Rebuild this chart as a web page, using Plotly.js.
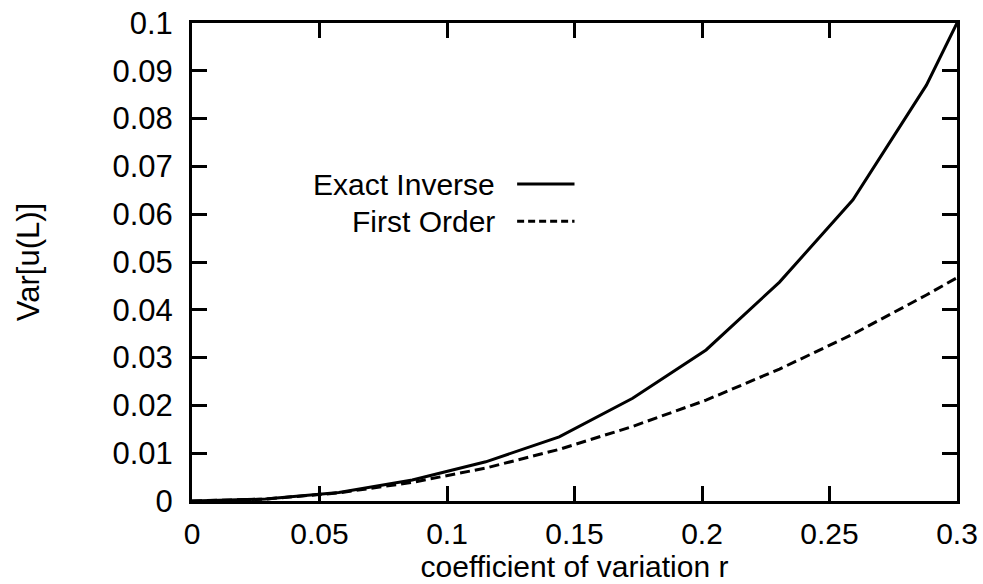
<!DOCTYPE html>
<html>
<head>
<meta charset="utf-8">
<script src="https://cdn.plot.ly/plotly-3.0.1.min.js"></script>
<style>html,body{margin:0;padding:0;background:#fff;}#chart{width:983px;height:584px;}</style>
</head>
<body>
<div id="chart"></div>
<script>
// coefficient of variation r
const r = [0, 0.0288, 0.0576, 0.0864, 0.1152, 0.144, 0.1728, 0.2016, 0.2304, 0.2592, 0.288, 0.3];
// Var[u(L)] - exact inverse
const exactInverse = [0, 0.0004, 0.0018, 0.0044, 0.0082, 0.0134, 0.0215, 0.0316, 0.0458, 0.063, 0.087, 0.1];
// Var[u(L)] - first order approximation
const firstOrder = [0, 0.0004, 0.0017, 0.0039, 0.0069, 0.0108, 0.0156, 0.0211, 0.0276, 0.0349, 0.0431, 0.0467];
const seriesNames = ["Exact Inverse", "First Order"];
const xTicks = [0, 0.05, 0.1, 0.15, 0.2, 0.25, 0.3];
const xTickText = ["0", "0.05", "0.1", "0.15", "0.2", "0.25", "0.3"];
const yTicks = [0, 0.01, 0.02, 0.03, 0.04, 0.05, 0.06, 0.07, 0.08, 0.09, 0.1];
const yTickText = ["0", "0.01", "0.02", "0.03", "0.04", "0.05", "0.06", "0.07", "0.08", "0.09", "0.1"];

const FONT = "Liberation Sans, Arial, Helvetica, sans-serif";
const FS = 31;
const FX = 30;
const FL = 30;

const traces = [
  {x: r, y: exactInverse, name: seriesNames[0], mode: "lines", line: {color: "#000", width: 3}},
  {x: r, y: firstOrder, name: seriesNames[1], mode: "lines", line: {color: "#000", width: 3, dash: "10px,5px"}}
];

const axisCommon = {
  showline: true, linecolor: "#000", linewidth: 3, mirror: "allticks",
  ticks: "inside", ticklen: 15, tickwidth: 3, tickcolor: "#000",
  showgrid: false, zeroline: false, tickmode: "array"
};

const legY1 = 0.663, legY2 = 0.585;

const layout = {
  width: 983, height: 584,
  margin: {l: 192, r: 26, t: 23, b: 83},
  paper_bgcolor: "#fff", plot_bgcolor: "#fff",
  showlegend: false,
  font: {family: FONT, color: "#000"},
  xaxis: Object.assign({}, axisCommon, {
    range: [0, 0.3], tickvals: xTicks, ticktext: xTickText,
    tickfont: {family: FONT, size: FX, color: "#000"},
    ticklabelstandoff: 4,
    title: {text: "coefficient of variation r", font: {family: FONT, size: FX, color: "#000"}, standoff: 3}
  }),
  yaxis: Object.assign({}, axisCommon, {
    range: [0, 0.1], tickvals: yTicks, ticktext: yTickText,
    tickfont: {family: FONT, size: FS, color: "#000"},
    ticklabelstandoff: 10,
    title: {text: "Var[u(L)]", font: {family: FONT, size: FS, color: "#000"}, standoff: 64}
  }),
  annotations: [
    {xref: "paper", yref: "paper", x: 0.397, y: legY1, xanchor: "right", yanchor: "middle",
     text: seriesNames[0], showarrow: false, borderpad: 0, font: {family: FONT, size: FL, color: "#000"}},
    {xref: "paper", yref: "paper", x: 0.397, y: legY2, xanchor: "right", yanchor: "middle",
     text: seriesNames[1], showarrow: false, borderpad: 0, font: {family: FONT, size: FL, color: "#000"}}
  ],
  shapes: [
    {type: "line", xref: "paper", yref: "paper", x0: 0.425, x1: 0.5, y0: legY1, y1: legY1,
     line: {color: "#000", width: 3}},
    {type: "line", xref: "paper", yref: "paper", x0: 0.425, x1: 0.5, y0: legY2, y1: legY2,
     line: {color: "#000", width: 3, dash: "7px,4px"}}
  ]
};

Plotly.newPlot("chart", traces, layout, {displayModeBar: false, staticPlot: true});
</script>
</body>
</html>
